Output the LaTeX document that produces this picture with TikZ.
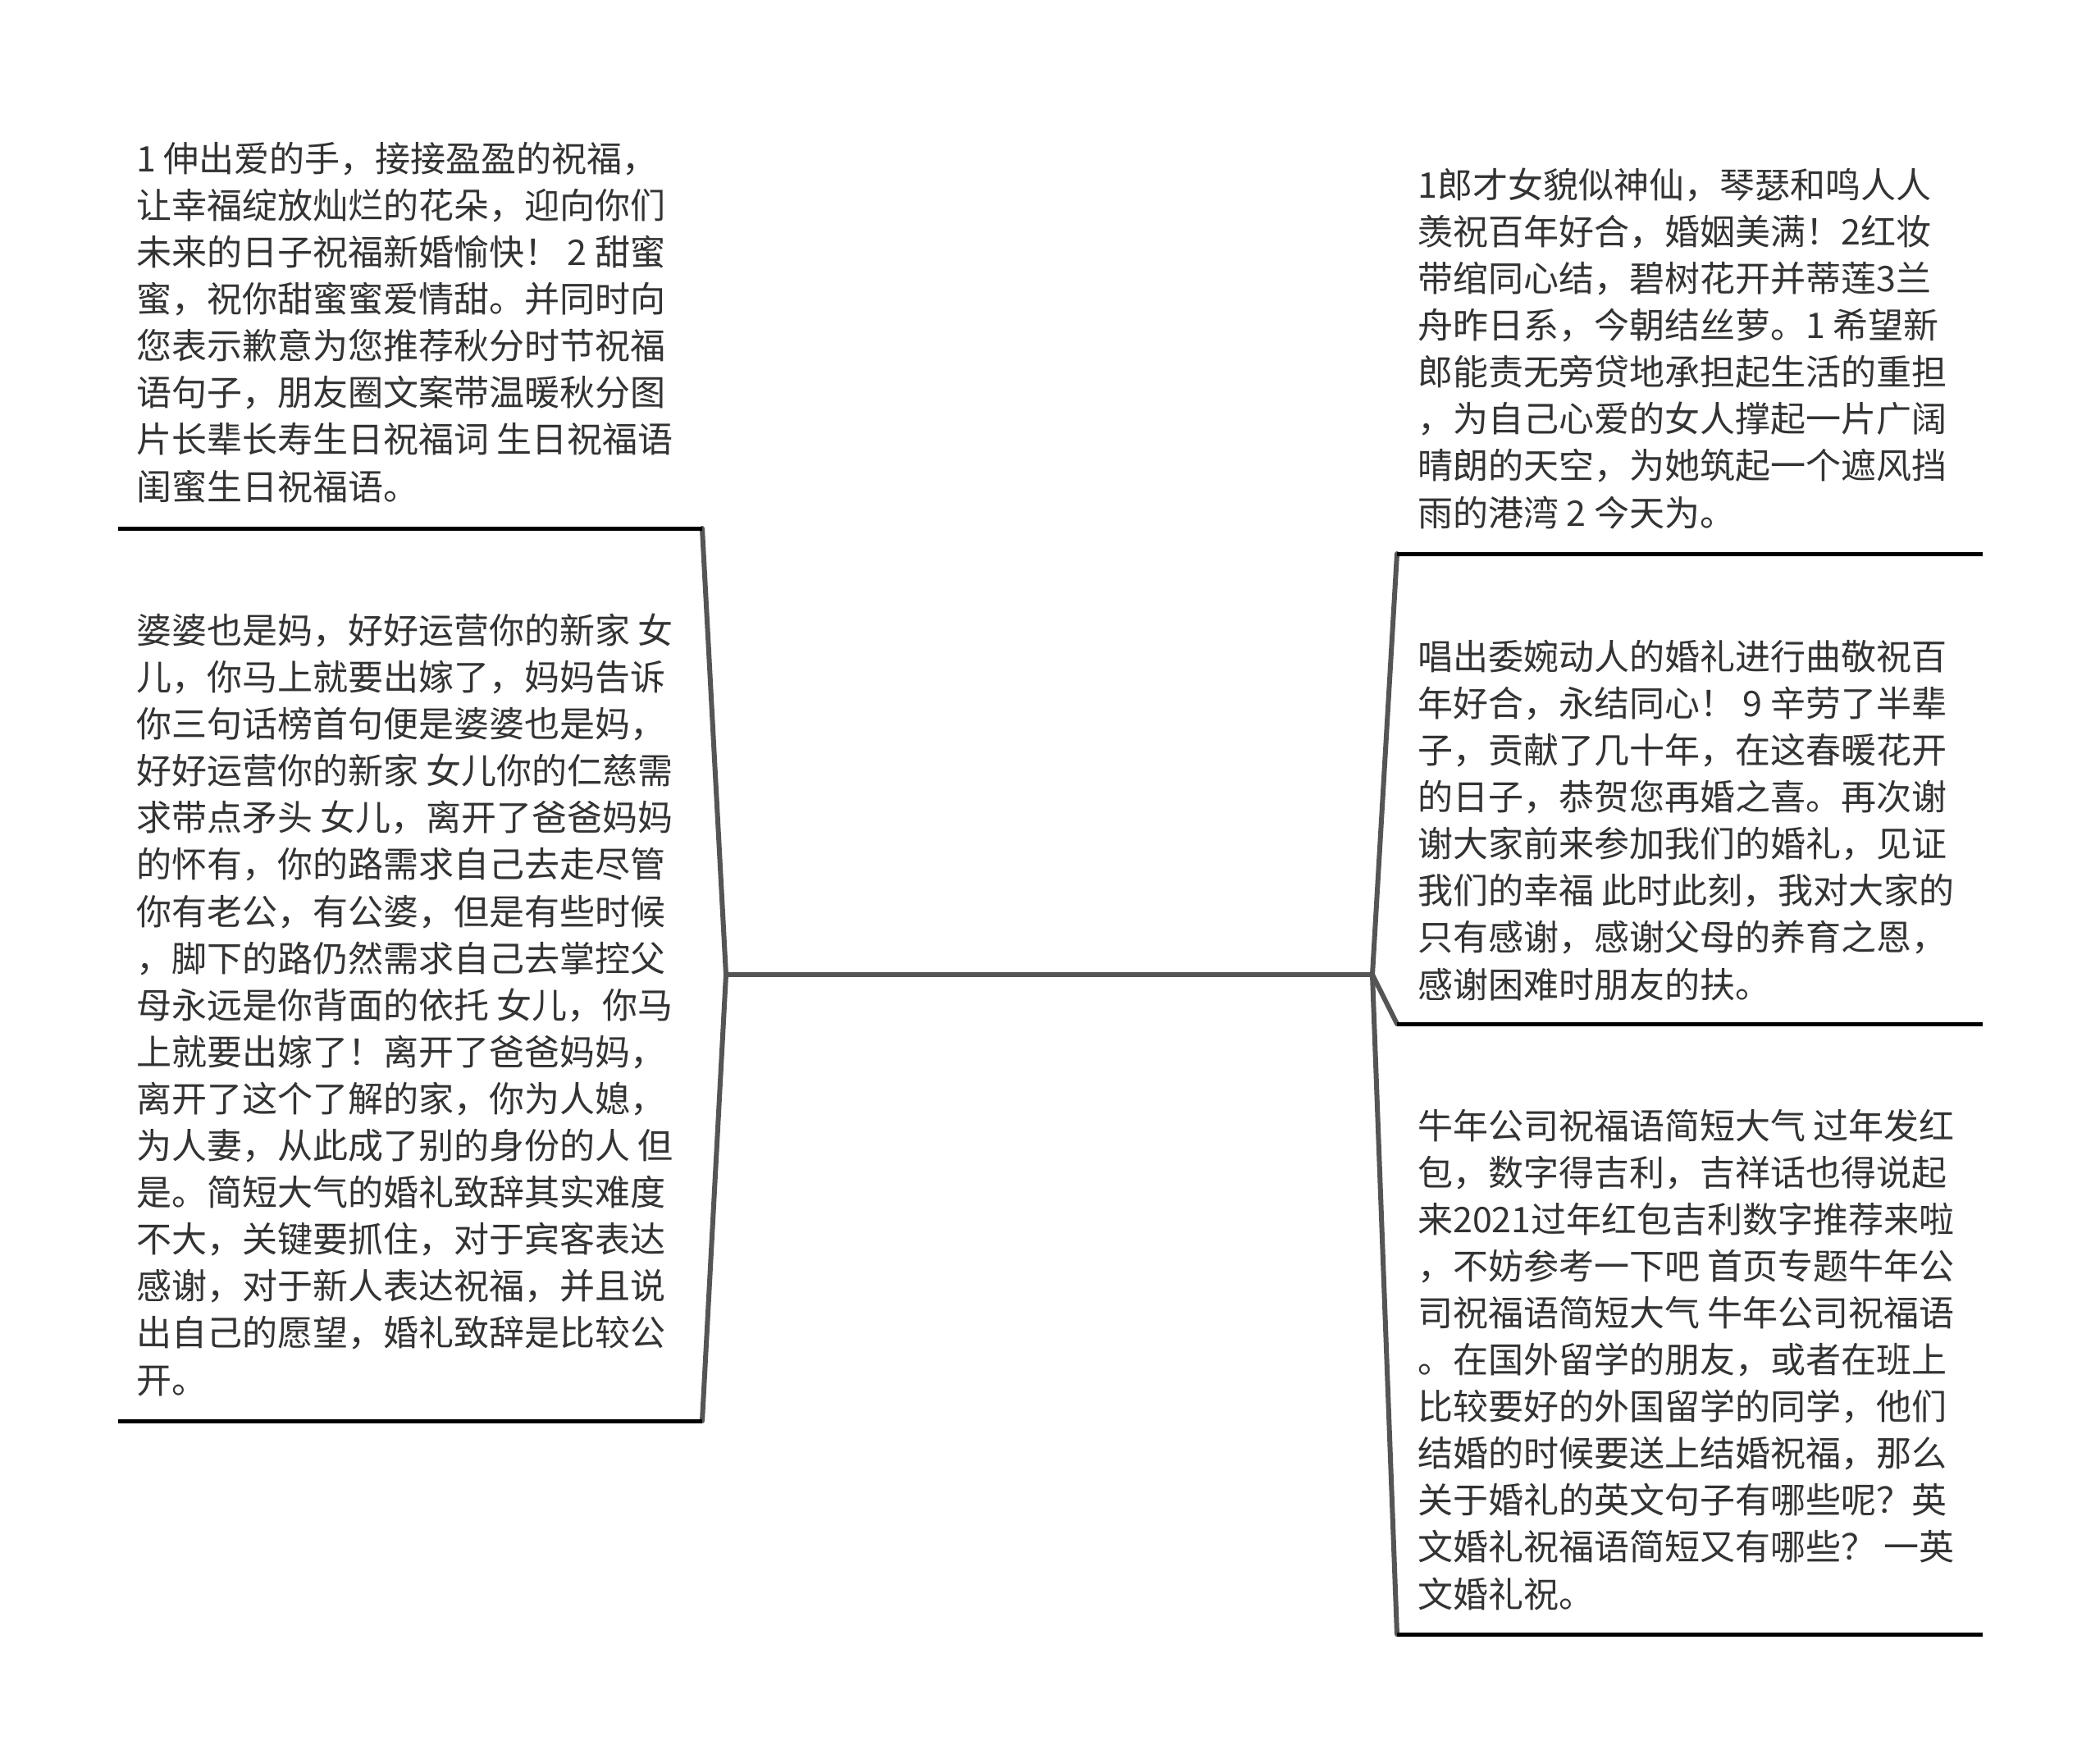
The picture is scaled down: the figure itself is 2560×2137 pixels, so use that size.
\documentclass[tikz,border=0pt]{standalone}
\usepackage{fontspec}
\newfontfamily\cjk{Noto Sans CJK SC}
\definecolor{txt}{HTML}{333333}
\definecolor{conncol}{HTML}{555555}
\tikzset{
  topic/.style={anchor=base west, inner sep=0pt, align=left, text=txt,
    font=\cjk\fontsize{43pt}{57.1pt}\selectfont},
  uline/.style={draw=black, line width=5pt},
  conn/.style={draw=conncol, line width=6pt, line cap=round},
}
\begin{document}
\begin{tikzpicture}[x=1pt,y=-1pt]
\useasboundingbox[fill=white] (0,0) rectangle (2560,2137);
% junctions
\coordinate (lj) at (885,1188);
\coordinate (rj) at (1673,1188);
% underline ends
\coordinate (l1a) at (144,644);  \coordinate (l1b) at (856,644);
\coordinate (l2a) at (144,1732); \coordinate (l2b) at (856,1732);
\coordinate (r1a) at (1703,675); \coordinate (r1b) at (2417,675);
\coordinate (r2a) at (1703,1248); \coordinate (r2b) at (2417,1248);
\coordinate (r3a) at (1703,1992); \coordinate (r3b) at (2417,1992);
% connectors
\draw[conn] (lj) -- (rj);
\draw[conn] (lj) -- (l1b);
\draw[conn] (lj) -- (l2b);
\draw[conn] (rj) -- (r1a);
\draw[conn] (rj) -- (r2a);
\draw[conn] (rj) -- (r3a);
% underlines
\draw[uline] (l1a) -- (l1b);
\draw[uline] (l2a) -- (l2b);
\draw[uline] (r1a) -- (r1b);
\draw[uline] (r2a) -- (r2b);
\draw[uline] (r3a) -- (r3b);
% texts (anchored at the baseline of their last line)
\node[topic] (l1) at (166,609) {1 伸出爱的手，接接盈盈的祝福，\\让幸福绽放灿烂的花朵，迎向你们\\未来的日子祝福新婚愉快！ 2 甜蜜\\蜜，祝你甜蜜蜜爱情甜。并同时向\\您表示歉意为您推荐秋分时节祝福\\语句子，朋友圈文案带温暖秋分图\\片长辈长寿生日祝福词 生日祝福语\\闺蜜生日祝福语。};
\node[topic] (l2) at (166,1698) {婆婆也是妈，好好运营你的新家 女\\儿，你马上就要出嫁了，妈妈告诉\\你三句话榜首句便是婆婆也是妈，\\好好运营你的新家 女儿你的仁慈需\\求带点矛头 女儿，离开了爸爸妈妈\\的怀有，你的路需求自己去走尽管\\你有老公，有公婆，但是有些时候\\，脚下的路仍然需求自己去掌控父\\母永远是你背面的依托 女儿，你马\\上就要出嫁了！离开了爸爸妈妈，\\离开了这个了解的家，你为人媳，\\为人妻，从此成了别的身份的人 但\\是。简短大气的婚礼致辞其实难度\\不大，关键要抓住，对于宾客表达\\感谢，对于新人表达祝福，并且说\\出自己的愿望，婚礼致辞是比较公\\开。};
\node[topic] (r1) at (1728,641) {1郎才女貌似神仙，琴瑟和鸣人人\\羡祝百年好合，婚姻美满！2红妆\\带绾同心结，碧树花开并蒂莲3兰\\舟昨日系，今朝结丝萝。1 希望新\\郎能责无旁贷地承担起生活的重担\\，为自己心爱的女人撑起一片广阔\\晴朗的天空，为她筑起一个遮风挡\\雨的港湾 2 今天为。};
\node[topic] (r2) at (1728,1216) {唱出委婉动人的婚礼进行曲敬祝百\\年好合，永结同心！ 9 辛劳了半辈\\子，贡献了几十年，在这春暖花开\\的日子，恭贺您再婚之喜。再次谢\\谢大家前来参加我们的婚礼，见证\\我们的幸福 此时此刻，我对大家的\\只有感谢，感谢父母的养育之恩，\\感谢困难时朋友的扶。};
\node[topic] (r3) at (1728,1959) {牛年公司祝福语简短大气 过年发红\\包，数字得吉利，吉祥话也得说起\\来2021过年红包吉利数字推荐来啦\\，不妨参考一下吧 首页专题牛年公\\司祝福语简短大气 牛年公司祝福语\\。在国外留学的朋友，或者在班上\\比较要好的外国留学的同学，他们\\结婚的时候要送上结婚祝福，那么\\关于婚礼的英文句子有哪些呢？英\\文婚礼祝福语简短又有哪些？ 一英\\文婚礼祝。};
\end{tikzpicture}
\end{document}
